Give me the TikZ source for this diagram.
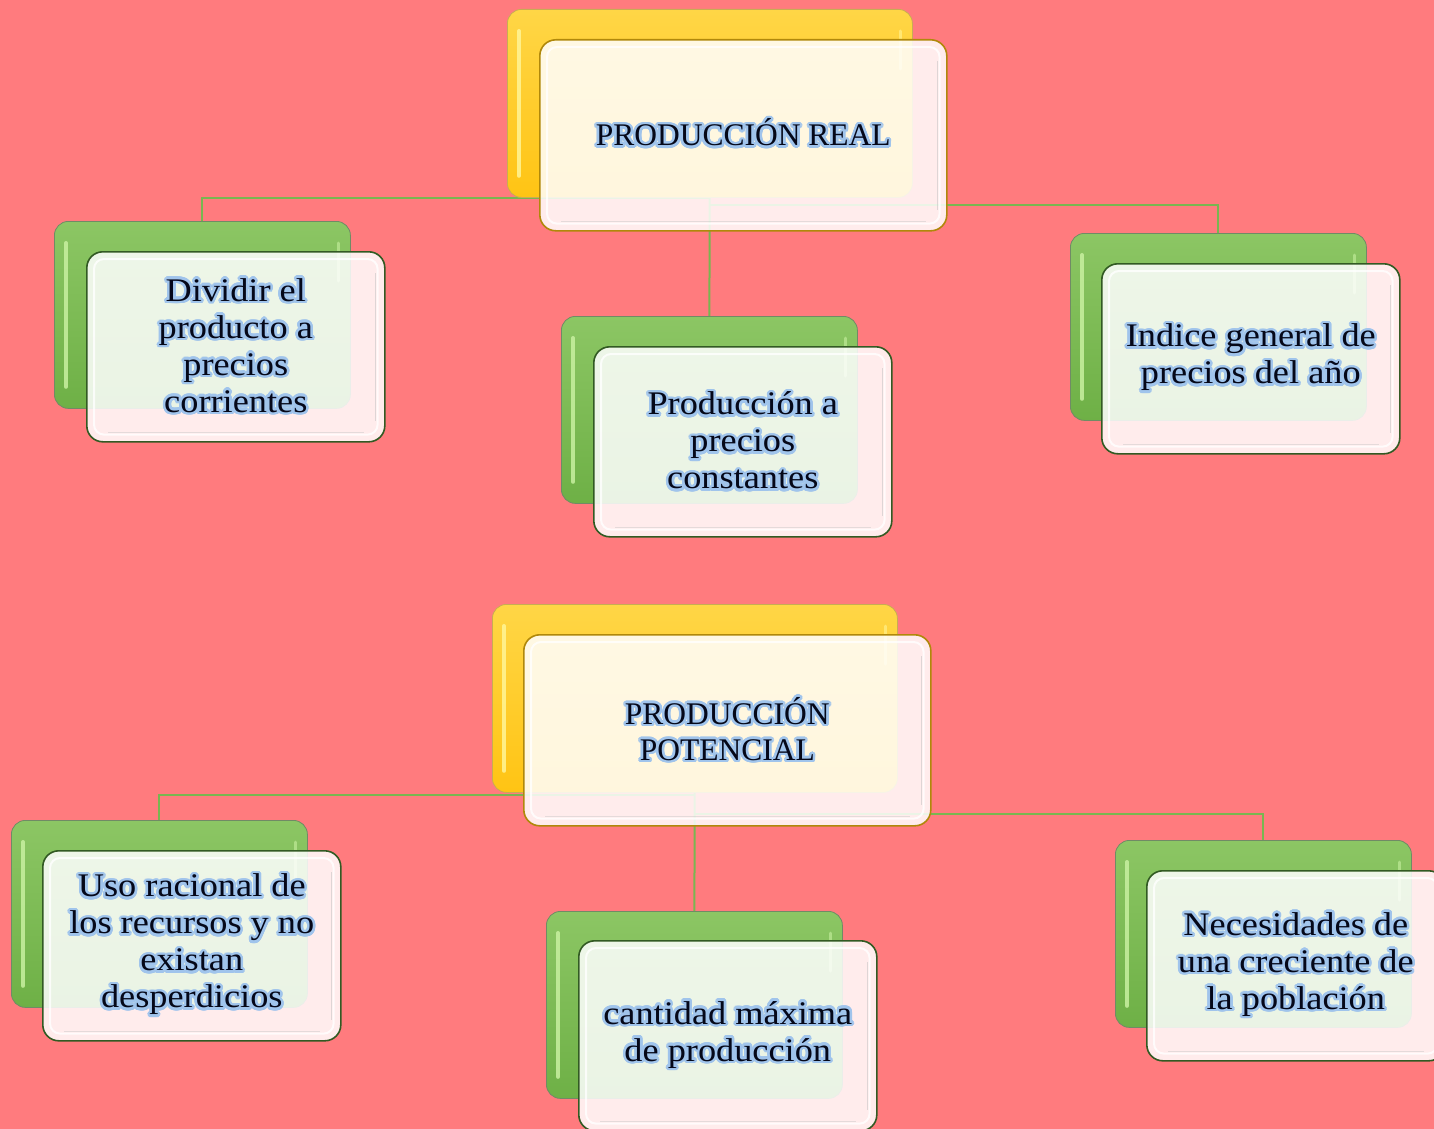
\documentclass[tikz,border=0pt]{standalone}
\usepackage{fontspec}
\setmainfont{Liberation Serif}
\newfontfamily\childfont[FakeStretch=1.1]{Liberation Serif}
\usepackage[copies]{contour}
\contourlength{2.5pt}
\contournumber{24}
\usetikzlibrary{calc}
\definecolor{bgpink}{RGB}{255,123,126}
\definecolor{linegreen}{RGB}{120,182,80}
\definecolor{ytop}{RGB}{255,214,70}
\definecolor{ybot}{RGB}{255,196,20}
\definecolor{yhi}{RGB}{255,245,150}
\definecolor{yborder}{RGB}{176,136,10}
\definecolor{gtop}{RGB}{140,198,100}
\definecolor{gbot}{RGB}{110,176,70}
\definecolor{ghi}{RGB}{200,240,160}
\definecolor{gborder}{RGB}{50,90,35}
\definecolor{textcol}{RGB}{5,8,25}
\definecolor{glowblue}{RGB}{160,196,236}
\newcommand\gl[1]{\contour{glowblue}{#1}}
\pgfdeclarelayer{bglayer}
\pgfdeclarelayer{linelayer}
\pgfsetlayers{bglayer,linelayer,main}
\tikzset{
  backbox/.style={anchor=north west, inner sep=0pt, rounded corners=14pt, line width=0.8pt},
  backY/.style={backbox, minimum width=405pt, minimum height=188pt, draw=yborder!70, top color=ytop, bottom color=ybot},
  backG/.style={backbox, minimum width=296pt, minimum height=187pt, draw=gborder!70, top color=gtop, bottom color=gbot},
  frontbox/.style={anchor=north west, inner sep=0pt, rounded corners=16pt, line width=1.6pt,
     fill=white, fill opacity=0.86, text opacity=1, align=center, text=textcol},
  frontY/.style={frontbox, minimum width=407pt, minimum height=191pt, draw=yborder,
     font=\fontsize{31.5}{36}\selectfont},
  frontG/.style={frontbox, minimum width=298pt, minimum height=190pt, draw=gborder,
     font=\childfont\fontsize{33}{37}\selectfont},
  conn/.style={draw=linegreen, line width=2pt},
}
\newcommand\backdeco[2]{%
  \draw[#2, line width=4pt, line cap=round, opacity=0.85]
    ($(#1.north west)+(12,22)$) -- ($(#1.south west)+(12,-22)$);
  \draw[#2, line width=3pt, line cap=round, opacity=0.6]
    ($(#1.north east)+(-12,22)$) -- ($(#1.north east)+(-12,60)$);
}
\newcommand\frontdeco[1]{%
  \draw[white, line width=2pt, opacity=0.8, rounded corners=10pt]
    ($(#1.north west)+(8,8)$) rectangle ($(#1.south east)+(-8,-8)$);
  \draw[black!25, line width=1.2pt, opacity=0.5]
    ($(#1.north east)+(-10,22)$) -- ($(#1.south east)+(-10,-22)$);
  \draw[black!25, line width=1.2pt, opacity=0.4]
    ($(#1.south west)+(22,-10)$) -- ($(#1.south east)+(-22,-10)$);
}
\begin{document}
\begin{tikzpicture}[x=1pt,y=-1pt]
\begin{pgfonlayer}{bglayer}
  \fill[bgpink] (0,0) rectangle (1434,1129);
\end{pgfonlayer}
\useasboundingbox (0,0) rectangle (1434,1129);

% ---------- group 1 ----------
\node[backY] (r0b) at (507,9) {};
\backdeco{r0b}{yhi}
\node[frontY, text depth=6pt] (r0) at (539,39) {\gl{PRODUCCIÓN REAL}};
\frontdeco{r0}

\node[backG] (c1b) at (54,221) {};
\backdeco{c1b}{ghi}
\node[frontG] (c1) at (86,251) {\gl{Dividir el}\\\gl{producto a}\\\gl{precios}\\\gl{corrientes}};
\frontdeco{c1}

\node[backG] (c2b) at (561,316) {};
\backdeco{c2b}{ghi}
\node[frontG] (c2) at (593,346) {\gl{Producción a}\\\gl{precios}\\\gl{constantes}};
\frontdeco{c2}

\node[backG] (c3b) at (1070,233) {};
\backdeco{c3b}{ghi}
\node[frontG] (c3) at (1101,263) {\gl{Indice general de}\\\gl{precios del año}};
\frontdeco{c3}

% ---------- group 2 ----------
\node[backY] (r1b) at (492,604) {};
\backdeco{r1b}{yhi}
\node[frontY] (r1) at (523,634) {\gl{PRODUCCIÓN}\\\gl{POTENCIAL}};
\frontdeco{r1}

\node[backG] (c4b) at (11,820) {};
\backdeco{c4b}{ghi}
\node[frontG] (c4) at (42,850) {\gl{Uso racional de}\\\gl{los recursos y no}\\\gl{existan}\\\gl{desperdicios}};
\frontdeco{c4}

\node[backG] (c5b) at (546,911) {};
\backdeco{c5b}{ghi}
\node[frontG] (c5) at (578,940) {\gl{cantidad máxima}\\\gl{de producción}};
\frontdeco{c5}

\node[backG] (c6b) at (1115,840) {};
\backdeco{c6b}{ghi}
\node[frontG] (c6) at (1146,870) {\gl{Necesidades de}\\\gl{una creciente de}\\\gl{la población}};
\frontdeco{c6}

% ---------- connectors ----------
\begin{pgfonlayer}{linelayer}
  \coordinate (r0r) at ($(r0b.south)+(0,7)$);
  \coordinate (r1r) at ($(r1b.south)+(0,21)$);
  \draw[conn] (r0b.south) -| (c1b.north);
  \draw[conn] (r0b.center) -- (c2b.north);
  \draw[conn] (r0r) -| (c3b.north);
  \draw[conn] ($(r1b.south)+(0,2)$) -| (c4b.north);
  \draw[conn] (r1b.center) -- (c5b.north);
  \draw[conn] (r1r) -| (c6b.north);
\end{pgfonlayer}
\end{tikzpicture}
\end{document}
